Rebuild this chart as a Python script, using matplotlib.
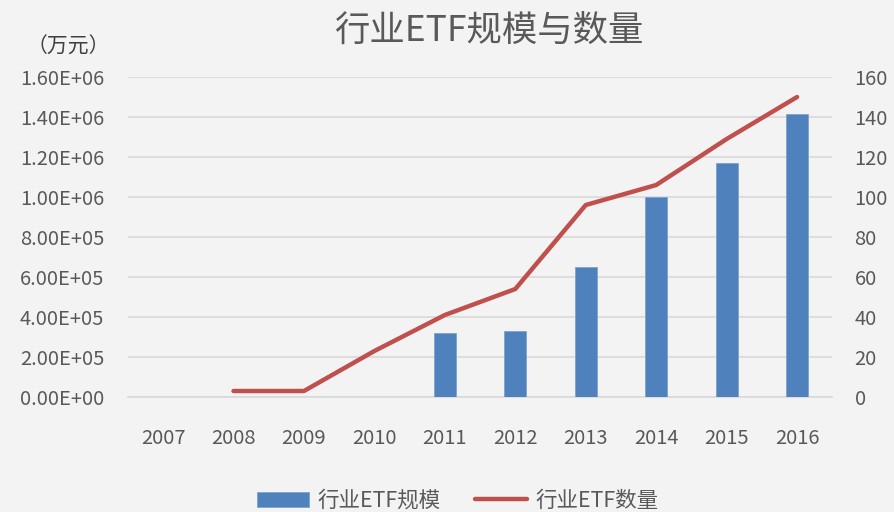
import matplotlib
matplotlib.use("Agg")
import numpy as np
import matplotlib.pyplot as plt
from matplotlib.ticker import FuncFormatter

plt.rcParams['font.family'] = ['Noto Sans CJK SC', 'DejaVu Sans']

years = ['2007', '2008', '2009', '2010', '2011', '2012', '2013', '2014', '2015', '2016']
scale = [0, 0, 0, 0, 322000, 332000, 648000, 1000000, 1172000, 1415000]   # 万元
count = [np.nan, 3, 3, 23, 41, 54, 96, 106, 129, 150]

bg = '#f3f3f3'
grey = '#595959'

fig = plt.figure(figsize=(8.94, 5.12), dpi=100, facecolor=bg)
ax = fig.add_axes([0.143, 0.2246, 0.788, 0.625], facecolor=bg)
ax2 = ax.twinx()

x = np.arange(len(years))
ax.bar(x, scale, width=0.31, color='#4f81bd', edgecolor='#7ea3d1', linewidth=0.6,
       label='行业ETF规模', zorder=3)
ax2.plot(x, count, color='#c0504d', linewidth=3.2, solid_capstyle='round',
         label='行业ETF数量', zorder=4)

ax.set_xlim(-0.5, len(years) - 0.5)
ax.set_ylim(0, 1.6e6)
ax.set_yticks(np.arange(0, 1.6e6 + 1, 2e5))
ax.yaxis.set_major_formatter(FuncFormatter(lambda v, p: '%.2E' % v))
ax2.set_ylim(0, 160)
ax2.set_yticks(np.arange(0, 161, 20))

ax.set_xticks(x)
ax.set_xticklabels(years)
ax.grid(axis='y', color='#d9d9d9', linewidth=1.2, zorder=0)
ax.set_axisbelow(True)

for a in (ax, ax2):
    for s in a.spines.values():
        s.set_visible(False)
    a.tick_params(length=0, labelsize=14.5, colors=grey)
ax.tick_params(axis='y', pad=17)
ax.tick_params(axis='x', pad=22)
ax2.tick_params(axis='y', pad=16)
ax.spines['bottom'].set_visible(True)
ax.spines['bottom'].set_color('#d9d9d9')
ax.spines['bottom'].set_linewidth(1.2)

fig.text(0.547, 0.94, '行业ETF规模与数量', ha='center', va='center', fontsize=25.5, color=grey)
fig.text(0.076, 0.908, '（万元）', ha='center', va='center', fontsize=15, color='#404040')

h1, l1 = ax.get_legend_handles_labels()
h2, l2 = ax2.get_legend_handles_labels()
fig.legend(h1 + h2, l1 + l2, loc='center', bbox_to_anchor=(0.512, 0.022), ncol=2,
           frameon=False, fontsize=15.5, labelcolor=grey, handlelength=2.4,
           columnspacing=1.6, handletextpad=0.4)

fig.savefig('out.png', dpi=100, facecolor=bg)
